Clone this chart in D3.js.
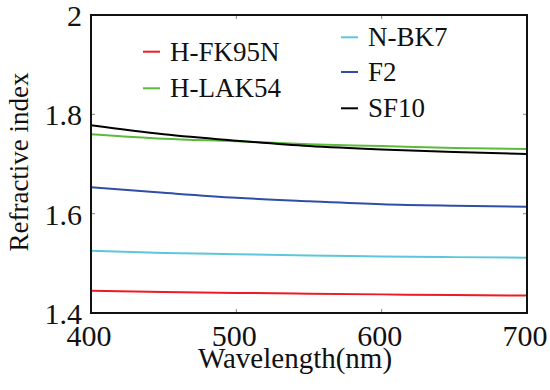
<!DOCTYPE html>
<html>
<head>
<meta charset="utf-8">
<script src="https://cdn.jsdelivr.net/npm/d3@7"></script>
<style>
  body { margin: 0; background: #fff; }
</style>
</head>
<body>
<div id="wrapper"></div>
<script>
// wavelength samples (nm)
var wavelengths = [400, 450, 500, 550, 600, 650, 700];

// refractive index per glass
var hfk95n = [1.445, 1.4425, 1.4405, 1.439, 1.4375, 1.436, 1.435];
var hlak54 = [1.760, 1.751, 1.746, 1.740, 1.736, 1.732, 1.730];
var nbk7   = [1.5255, 1.521, 1.5185, 1.516, 1.514, 1.5125, 1.5112];
var f2     = [1.653, 1.642, 1.632, 1.625, 1.619, 1.616, 1.614];
var sf10   = [1.778, 1.760, 1.747, 1.736, 1.729, 1.724, 1.720];

var glassNames = ["H-FK95N", "H-LAK54", "N-BK7", "F2", "SF10"];
var glassColors = ["#ec1c24", "#5bbb3b", "#5cc6da", "#2f4fa6", "#000000"];

var xTicks = [400, 500, 600, 700];
var yTicks = [1.4, 1.6, 1.8, 2];

var FONT = "'Liberation Serif', 'Times New Roman', Times, 'DejaVu Serif', serif";

function build() {
    var series = [hfk95n, hlak54, nbk7, f2, sf10];

    var dimension = {
        width: 550,
        height: 390,
        margin: { top: 15, right: 23, bottom: 77, left: 91 }
    };
    dimension.boundedWidth = dimension.width - dimension.margin.left - dimension.margin.right;
    dimension.boundedHeight = dimension.height - dimension.margin.top - dimension.margin.bottom;

    const wrapper = d3.select("#wrapper")
        .append("svg")
        .attr("width", dimension.width)
        .attr("height", dimension.height)
        .style("font-family", FONT);

    const bounds = wrapper.append("g")
        .attr("transform", `translate(${dimension.margin.left},${dimension.margin.top})`);

    const x = d3.scaleLinear().domain([400, 700]).range([0, dimension.boundedWidth]);
    const y = d3.scaleLinear().domain([1.4, 2]).range([dimension.boundedHeight, 0]);

    // inner ticks, all four sides
    const tickLen = 4;
    const tickG = bounds.append("g").attr("stroke", "#888").attr("stroke-width", 1);
    xTicks.forEach(t => {
        tickG.append("line").attr("x1", x(t)).attr("x2", x(t))
            .attr("y1", dimension.boundedHeight).attr("y2", dimension.boundedHeight - tickLen);
        tickG.append("line").attr("x1", x(t)).attr("x2", x(t))
            .attr("y1", 0).attr("y2", tickLen);
    });
    yTicks.forEach(t => {
        tickG.append("line").attr("x1", 0).attr("x2", tickLen)
            .attr("y1", y(t)).attr("y2", y(t));
        tickG.append("line").attr("x1", dimension.boundedWidth).attr("x2", dimension.boundedWidth - tickLen)
            .attr("y1", y(t)).attr("y2", y(t));
    });

    // lines
    const line = d3.line()
        .x((d, i) => x(wavelengths[i]))
        .y(d => y(d))
        .curve(d3.curveMonotoneX);

    bounds.selectAll("path.glass")
        .data(series)
        .enter()
        .append("path")
        .attr("class", "glass")
        .attr("d", d => line(d))
        .attr("fill", "none")
        .attr("stroke", (d, i) => glassColors[i])
        .attr("stroke-width", 2);

    // frame
    bounds.append("rect")
        .attr("width", dimension.boundedWidth)
        .attr("height", dimension.boundedHeight)
        .attr("fill", "none")
        .attr("stroke", "#111")
        .attr("stroke-width", 2);

    // tick labels
    bounds.append("g")
        .selectAll("text")
        .data(xTicks)
        .enter()
        .append("text")
        .attr("x", d => x(d) - 2)
        .attr("y", dimension.boundedHeight + 33)
        .attr("fill", "#111")
        .style("text-anchor", "middle")
        .style("font-size", "30px")
        .text(d => d);

    bounds.append("g")
        .selectAll("text")
        .data(yTicks)
        .enter()
        .append("text")
        .attr("x", -9)
        .attr("y", d => y(d) + 11)
        .attr("fill", "#111")
        .style("text-anchor", "end")
        .style("font-size", "30px")
        .text(d => d3.format(".1~f")(d));

    // axis titles
    wrapper.append("text")
        .attr("x", 295)
        .attr("y", 368)
        .attr("fill", "#111")
        .style("text-anchor", "middle")
        .style("font-size", "29px")
        .text("Wavelength(nm)");

    wrapper.append("text")
        .attr("transform", "translate(28,162) rotate(-90)")
        .attr("fill", "#111")
        .style("text-anchor", "middle")
        .style("font-size", "27px")
        .text("Refractive index");

    // legend, two columns
    var legendPos = [
        { lx: 143, ly: 51.7 },
        { lx: 143, ly: 88.3 },
        { lx: 341, ly: 37.3 },
        { lx: 341, ly: 72 },
        { lx: 341, ly: 108.3 }
    ];
    const legend = wrapper.append("g")
        .selectAll("g")
        .data(glassNames)
        .enter()
        .append("g")
        .attr("transform", (d, i) => `translate(${legendPos[i].lx},${legendPos[i].ly})`);

    legend.append("line")
        .attr("x1", 0).attr("x2", 17)
        .attr("stroke", (d, i) => glassColors[i])
        .attr("stroke-width", 2);

    legend.append("text")
        .attr("x", 27)
        .attr("y", 9)
        .attr("fill", "#111")
        .style("font-size", "27px")
        .text(d => d);
}

build();
</script>
</body>
</html>
